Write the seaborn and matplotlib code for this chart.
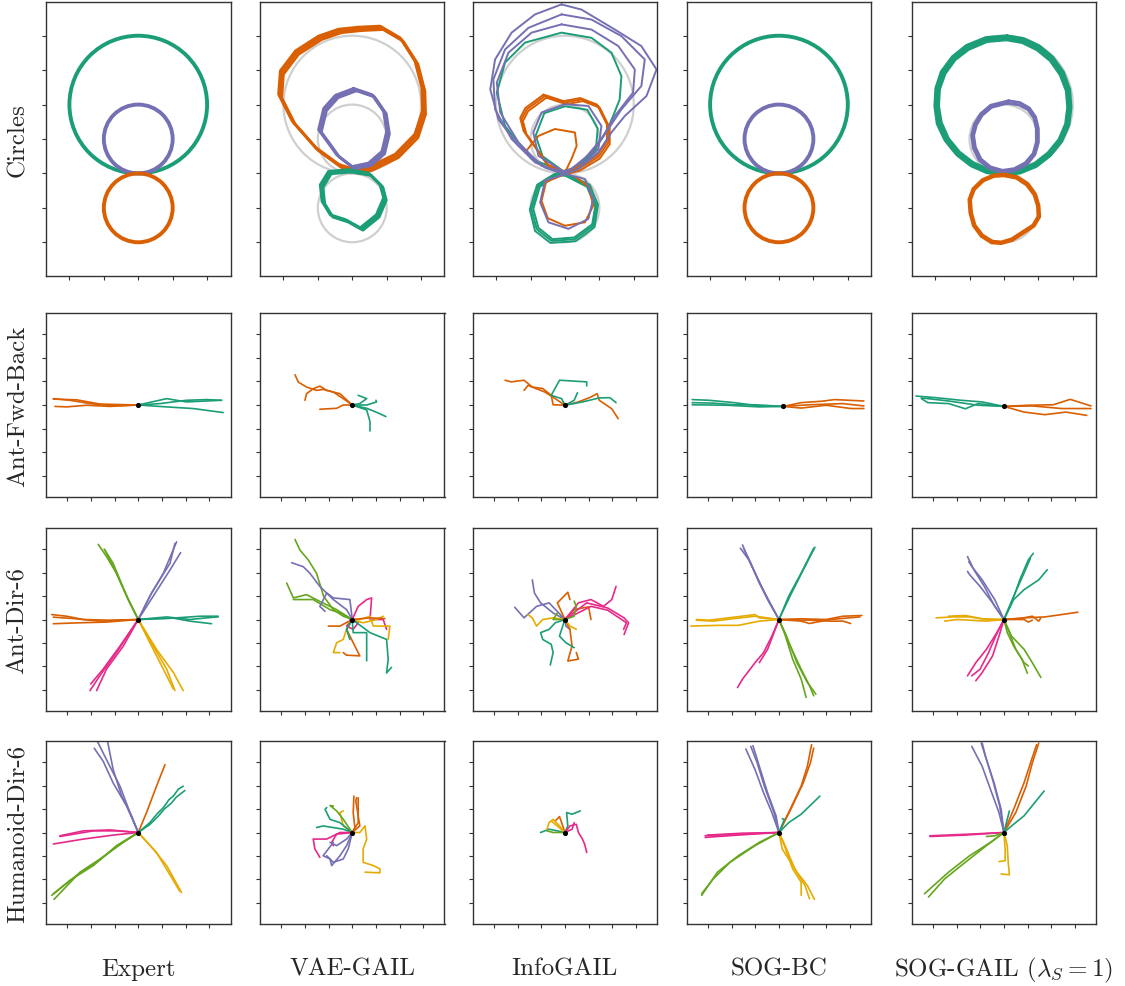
import matplotlib
matplotlib.use("Agg")
import matplotlib.pyplot as plt
from matplotlib.patches import Circle
import seaborn as sns
import pandas as pd

sns.set_theme(style="ticks")
plt.rcParams['font.family'] = ['cmr10', 'DejaVu Serif']
plt.rcParams['mathtext.fontset'] = 'cm'
plt.rcParams['axes.formatter.use_mathtext'] = True

W, H = 1125, 987
dk = sns.color_palette("Dark2")
PALETTE = {"teal": dk[0], "orange": dk[1], "purple": dk[2],
           "pink": dk[3], "lime": dk[4], "gold": dk[5]}

METHODS = ["Expert", "VAE-GAIL", "InfoGAIL", "SOG-BC", r"SOG-GAIL ($\lambda_S = 1$)"]
TASKS = ["Circles", "Ant-Fwd-Back", "Ant-Dir-6", "Humanoid-Dir-6"]

# ---- Circles (cx, cy, r) ----
REF_CIRCLES = [(0, 20, 20), (0, 10, 10), (0, -10, 10)]
CIRCLE_COLORS = ["teal", "purple", "orange"]

circ_vae = {
    "orange": [
        [(2.2,42.0),(8.5,42.3),(14.3,38.9),(18.6,32.2),(20.6,24.4),(20.8,17.7),(18.6,10.9),(12.9,5.1),(5.1,1.3),(1.3,0.5),(-3.6,2.2),(-10.3,7.1),(-17.1,14.8),(-21.0,22.5),(-20.5,29.3),(-16.1,35.1),(-9.4,39.4),(-3.6,41.4),(2.2,42.0)],
        [(2.7,41.5),(9.0,41.8),(14.8,38.4),(19.1,31.7),(21.1,23.9),(21.3,17.2),(19.1,10.4),(13.4,4.6),(5.6,0.8),(1.8,0.0),(-3.1,1.7),(-9.8,6.6),(-16.6,14.3),(-20.5,22.0),(-20.0,28.8),(-15.6,34.6),(-8.9,38.9),(-3.1,40.9),(2.7,41.5)],
        [(1.8,42.5),(8.1,42.8),(13.9,39.4),(18.2,32.7),(20.2,24.9),(20.4,18.2),(18.2,11.4),(12.5,5.6),(4.7,1.8),(0.9,1.0),(-4.0,2.7),(-10.7,7.6),(-17.5,15.3),(-21.4,23.0),(-20.9,29.8),(-16.5,35.6),(-9.8,39.9),(-4.0,41.9),(1.8,42.5)],
    ],
    "purple": [
        [(0.8,24.4),(6.1,22.6),(9.5,17.7),(10.4,11.9),(9.0,6.1),(5.1,2.7),(0.3,1.7),(-4.1,5.1),(-6.9,9.0),(-9.4,12.4),(-7.9,18.6),(-4.5,22.4),(0.8,24.4)],
        [(1.2,24.0),(6.5,22.2),(9.9,17.3),(10.8,11.5),(9.4,5.7),(5.5,2.3),(0.7,1.3),(-3.7,4.7),(-6.5,8.6),(-9.0,12.0),(-7.5,18.2),(-4.1,22.0),(1.2,24.0)],
        [(0.4,24.7),(5.7,22.9),(9.1,18.0),(10.0,12.2),(8.6,6.4),(4.7,3.0),(-0.1,2.0),(-4.5,5.4),(-7.3,9.3),(-9.8,12.7),(-8.3,18.9),(-4.9,22.7),(0.4,24.7)],
    ],
    "teal": [
        [(-0.7,0.8),(5.1,-0.2),(8.5,-3.6),(9.5,-7.4),(7.4,-12.3),(2.7,-16.1),(-1.6,-13.7),(-6.0,-12.3),(-8.4,-8.4),(-8.9,-3.6),(-6.5,0.3),(-0.7,0.8)],
        [(-0.3,0.4),(5.5,-0.6),(8.9,-4.0),(9.9,-7.8),(7.8,-12.7),(3.1,-16.5),(-1.2,-14.1),(-5.6,-12.7),(-8.0,-8.8),(-8.5,-4.0),(-6.1,-0.1),(-0.3,0.4)],
        [(-1.1,1.1),(4.7,0.1),(8.1,-3.3),(9.1,-7.1),(7.0,-12.0),(2.3,-15.8),(-2.0,-13.4),(-6.4,-12.0),(-8.8,-8.1),(-9.3,-3.3),(-6.9,0.6),(-1.1,1.1)],
    ],
}

circ_info = {
    "teal": [
        [(0,0.3),(-9.7,4.2),(-17.4,13.8),(-19.8,23.5),(-17.4,32.2),(-11.6,38.0),(-1.0,40.9),(7.7,39.4),(13.5,35.1),(16.4,28.3),(15.9,21.5),(14.0,16.7),(12.0,12.0),(8.0,6.0),(3.0,1.5),(0,0.3)],
        [(0,0.3),(-6.5,5.0),(-8.5,11.0),(-6.0,17.5),(0,19.5),(6.5,18.5),(9.5,13.0),(9.0,7.0),(4.0,1.8),(0,0.3)],
        [(0,-0.2),(6.8,-3.6),(9.2,-9.4),(8.2,-15.2),(2.9,-19.1),(-3.9,-19.6),(-8.2,-16.2),(-9.7,-10.4),(-7.7,-3.6),(-2.9,-0.5),(0,-0.2)],
        [(0,-0.6),(6.4,-3.9),(8.8,-9.6),(7.9,-14.8),(2.7,-18.6),(-3.6,-19.1),(-7.7,-15.8),(-9.2,-10.3),(-7.3,-3.9),(-2.7,-0.8),(0,-0.6)],
        [(0,0.1),(7.2,-3.3),(9.6,-9.1),(8.6,-15.6),(3.1,-19.7),(-4.2,-20.2),(-8.7,-16.7),(-10.2,-10.5),(-8.1,-3.3),(-3.1,-0.2),(0,0.1)],
    ],
    "orange": [
        [(-5.8,22.5),(0,20.6),(4.8,21.5),(9.7,19.6),(12.6,13.8),(12.6,9.0),(9.7,4.8),(3.9,1.3),(0,0.3),(-4.8,2.2),(-8.2,7.1),(-11.6,11.9),(-12.6,15.7),(-11.1,18.6),(-5.8,22.5)],
        [(-5.4,22.0),(0.4,20.1),(5.2,21.0),(10.1,19.1),(13.0,13.3),(13.0,8.5),(10.1,4.3),(4.3,0.8),(0.4,-0.2),(-4.4,1.7),(-7.8,6.6),(-11.2,11.4),(-12.2,15.2),(-10.7,18.1),(-5.4,22.0)],
        [(-6.2,22.9),(-0.4,21.0),(4.4,21.9),(9.3,20.0),(12.2,14.2),(12.2,9.4),(9.3,5.2),(3.5,1.7),(-0.4,0.7),(-5.2,2.6),(-8.6,7.5),(-12.0,12.3),(-13.0,16.1),(-11.5,19.0),(-6.2,22.9)],
        [(0,0.3),(1.9,4.2),(3.4,8.0),(2.9,11.9),(-2.9,12.9),(-7.7,10.9),(-11.6,6.1)],
        [(0,-0.2),(-5.5,-2.5),(-6.8,-8.0),(-5.0,-13.0),(0,-15.2),(5.8,-14.2),(8.2,-9.4),(7.0,-4.0),(3.0,-1.0)],
    ],
    "purple": [
        [(-1.0,49.1),(4.8,47.6),(14.5,41.8),(22.2,37.0),(26.6,30.2),(23.7,22.5),(17.4,16.7),(13.5,11.9),(9.7,6.1),(3.9,1.3),(0,-0.2),(-5.8,1.7),(-13.5,8.0),(-19.3,15.7),(-21.7,24.4),(-20.3,33.1),(-15.5,40.9),(-8.7,46.2),(-1.0,49.1)],
        [(-1.0,46.2),(7.7,44.7),(16.4,39.9),(23.2,33.1),(22.2,25.4),(16.4,18.6),(12.6,12.9),(7.7,6.1),(1.9,1.3),(-1.9,0.3),(-8.7,3.2),(-15.5,10.0),(-20.3,18.6),(-20.8,27.3),(-17.4,36.0),(-10.6,42.3),(-1.0,46.2)],
        [(-1.0,43.3),(7.7,41.8),(15.5,37.0),(20.3,30.2),(19.8,23.5),(14.5,16.7),(10.6,10.0),(4.8,3.2),(0,0.3),(-6.8,2.2),(-13.5,9.0),(-18.8,17.7),(-19.8,26.4),(-16.4,35.1),(-9.7,40.9),(-1.0,43.3)],
        [(0,-0.2),(5.8,-1.6),(8.2,-7.4),(6.8,-13.2),(1.0,-16.1),(-4.8,-14.2),(-7.2,-8.4),(-5.8,-2.1),(0,-0.2)],
        [(3.9,1.3),(9.7,7.1),(10.6,13.8),(6.8,19.6),(0,20.1),(-6.8,17.7),(-9.2,11.9),(-7.7,5.1),(0,0.3)],
    ],
}

circ_soggail = {
    "teal": [
        [(0.8,39.4),(5.5,38.6),(9.9,36.5),(13.8,33.3),(16.8,29.0),(18.6,24.2),(19.0,19.2),(18.4,14.3),(16.4,9.6),(13.2,5.6),(9.2,2.5),(4.6,0.6),(0.0,0.0),(-4.8,0.7),(-9.3,2.7),(-13.3,5.8),(-16.6,9.9),(-18.8,14.6),(-19.6,19.6),(-19.2,24.6),(-17.6,29.3),(-14.6,33.4),(-10.6,36.6),(-5.0,38.9),(0.8,39.4)],
        [(0.7,38.8),(5.3,38.0),(9.6,35.9),(13.4,32.8),(16.3,28.7),(18.1,24.0),(18.5,19.2),(17.9,14.4),(16.0,9.9),(12.8,6.0),(9.0,3.0),(4.5,1.1),(0.0,0.5),(-4.6,1.2),(-9.0,3.2),(-12.9,6.2),(-16.1,10.1),(-18.2,14.8),(-19.0,19.6),(-18.7,24.5),(-17.1,29.0),(-14.2,33.0),(-10.3,36.0),(-4.9,38.3),(0.7,38.8)],
        [(0.9,40.0),(5.7,39.2),(10.2,37.1),(14.2,33.8),(17.3,29.4),(19.1,24.4),(19.5,19.2),(18.9,14.1),(16.8,9.3),(13.5,5.2),(9.4,2.0),(4.7,0.1),(0.0,-0.5),(-5.0,0.2),(-9.6,2.2),(-13.7,5.4),(-17.1,9.6),(-19.4,14.4),(-20.1,19.6),(-19.8,24.8),(-18.2,29.6),(-15.0,33.9),(-10.9,37.2),(-5.2,39.5),(0.9,40.0)],
    ],
    "purple": [
        [(1.3,21.1),(4.6,20.6),(7.4,19.0),(9.2,16.4),(10.0,13.0),(10.0,9.0),(9.0,5.5),(6.6,2.6),(3.2,0.8),(-0.5,0.3),(-4.2,1.4),(-7.2,3.8),(-8.9,7.4),(-9.4,11.0),(-8.6,14.3),(-6.8,17.3),(-3.9,19.8),(1.3,21.1)],
        [(1.0,20.4),(4.4,19.9),(7.0,18.5),(8.7,16.1),(9.4,12.9),(9.4,9.1),(8.5,5.8),(6.2,3.1),(3.0,1.4),(-0.4,0.9),(-3.9,1.9),(-6.7,4.2),(-8.3,7.6),(-8.8,11.0),(-8.0,14.1),(-6.3,16.9),(-3.6,19.2),(1.0,20.4)],
    ],
    "orange": [
        [(0.0,-0.2),(3.8,-0.9),(7.0,-3.0),(9.2,-6.0),(10.2,-9.3),(10.4,-12.6),(8.8,-15.3),(5.6,-17.4),(2.4,-19.5),(-0.8,-20.4),(-3.6,-20.2),(-6.6,-18.3),(-8.9,-15.2),(-9.9,-11.5),(-10.2,-7.6),(-9.0,-4.4),(-6.3,-1.8),(-3.0,-0.4),(0.0,-0.2)],
        [(0.0,-0.7),(3.6,-1.4),(6.6,-3.4),(8.7,-6.2),(9.7,-9.4),(9.9,-12.5),(8.4,-15.0),(5.3,-17.0),(2.2,-19.0),(-0.8,-19.9),(-3.4,-19.7),(-6.2,-17.9),(-8.4,-15.0),(-9.4,-11.4),(-9.7,-7.7),(-8.6,-4.7),(-6.0,-2.2),(-2.9,-0.9),(0.0,-0.7)],
    ],
}

# ---- Ant-Fwd-Back (tick units) ----
FB_START = [(0, 0), (0, 0), (0, -0.01), (0.18, -0.06), (0, -0.06)]
fb_expert = {
    "orange": [[(-1.06,-0.03),(-2.04,0.06),(-2.89,0.2),(-3.59,0.27)],
               [(-1.2,-0.06),(-2.18,-0.01),(-3.03,-0.08),(-3.52,-0.06)],
               [(-1.62,0.04),(-2.6,0.22),(-3.59,0.25)]],
    "teal": [[(0.92,0.06),(2.04,0.2),(2.89,0.23),(3.52,0.2)],
             [(1.2,0.27),(2.04,0.13),(3.52,0.2)],
             [(1.2,-0.08),(2.32,-0.15),(3.59,-0.32)]],
}
fb_vae = {
    "orange": [[(-0.38,0.27),(-0.8,0.55),(-1.23,0.66),(-1.51,0.62),(-1.93,0.76),(-2.28,0.97),(-2.42,1.28)],
               [(-0.52,0.48),(-1.08,0.62),(-1.37,0.8),(-1.65,0.69),(-1.93,0.48),(-2.0,0.2)],
               [(-0.38,0.0),(-0.66,-0.14),(-1.37,-0.18)]],
    "teal": [[(0.32,0.06),(0.61,0.27),(0.25,0.41)],
             [(0.61,0.0),(1.03,0.13),(1.0,0.2)],
             [(0.61,-0.21),(0.75,-0.7),(0.75,-1.1)],
             [(0.61,-0.14),(1.03,-0.31),(1.42,-0.49)]],
}
fb_info = {
    "orange": [[(-0.5,0.01),(-0.58,0.41),(-0.94,0.7),(-1.38,0.76),(-1.73,1.05),(-2.27,0.98),(-2.53,1.05)],
               [(-0.41,0.27),(-0.85,0.55),(-1.56,0.83),(-1.73,0.62)],
               [(0.57,0.13),(1.1,0.34),(1.36,0.48),(1.45,0.2),(1.98,-0.16),(2.25,-0.58)]],
    "teal": [[(-0.14,0.27),(-0.58,0.41),(-0.23,1.05),(0.92,0.98),(0.92,0.81)],
             [(0.39,0.2),(0.53,0.52)],
             [(0.74,0.13),(1.45,0.3),(1.9,0.31),(2.16,0.1)]],
}
fb_sogbc = {
    "teal": [[(-0.83,-0.04),(-1.89,0.1),(-2.96,0.2),(-3.67,0.23)],
             [(-1.0,0.01),(-1.89,0.01),(-2.8,0.08),(-3.67,0.1)],
             [(-0.83,-0.08),(-2.2,-0.01),(-3.67,0.01)]],
    "orange": [[(0.94,0.1),(1.82,0.16),(2.35,0.23),(3.59,0.17)],
               [(1.3,0.01),(2.7,0.06),(3.59,-0.04)],
               [(0.94,-0.13),(1.99,-0.01),(3.05,-0.15),(3.59,-0.15)]],
}
fb_soggail = {
    "teal": [[(-0.92,0.13),(-1.81,0.2),(-2.87,0.31),(-3.72,0.38)],
             [(-1.1,-0.01),(-2.34,0.17),(-3.22,0.27),(-3.49,0.3)],
             [(-1.1,0.06),(-1.63,-0.16),(-2.34,0.06),(-3.22,0.1),(-3.49,0.27)]],
    "orange": [[(1.03,-0.01),(2.09,0.01),(2.8,0.24),(3.68,-0.04)],
               [(1.2,-0.04),(2.44,-0.15),(3.68,-0.15)],
               [(0.85,-0.3),(1.73,-0.41),(2.62,-0.3),(3.5,-0.44)]],
}

# ---- Ant-Dir-6 (tick units) ----
ad_expert = {
    "lime": [[(-0.42,0.85),(-0.92,1.97),(-1.34,2.68),(-1.69,3.2)],
             [(-0.49,0.99),(-1.06,2.39),(-1.44,3.0)],
             [(-0.35,0.7),(-0.99,2.11),(-1.41,2.96)]],
    "purple": [[(0.49,0.99),(1.06,1.97),(1.62,3.31)],
               [(0.56,1.13),(1.34,2.39),(1.55,3.24)],
               [(0.63,0.99),(1.34,2.11),(1.79,2.85)]],
    "orange": [[(-1.2,-0.03),(-2.32,0.0),(-3.03,0.14),(-3.66,0.21)],
               [(-1.62,-0.07),(-2.75,0.04),(-3.59,0.1)],
               [(-1.34,-0.11),(-2.46,-0.14),(-3.59,-0.18)]],
    "teal": [[(1.2,0.11),(2.18,0.0),(2.89,0.07),(3.38,0.11)],
             [(1.48,0.06),(2.61,0.14),(3.38,0.14)],
             [(1.48,0.06),(2.18,-0.07),(3.1,-0.18)]],
    "pink": [[(-0.77,-1.13),(-1.48,-2.11),(-2.01,-2.75)],
             [(-0.92,-1.41),(-1.62,-2.39),(-2.04,-3.03)],
             [(-0.63,-1.13),(-1.34,-2.11),(-1.76,-3.03)]],
    "gold": [[(0.63,-1.13),(1.2,-2.11),(1.55,-3.03)],
             [(0.49,-0.99),(1.06,-2.11),(1.48,-2.96)],
             [(0.77,-1.27),(1.48,-2.25),(1.9,-3.03)]],
}
ad_vae = {
    "lime": [[(-0.38,0.14),(-0.8,0.42),(-1.21,0.99),(-1.51,1.97),(-1.86,2.54),(-2.21,2.96),(-2.42,3.41)],
             [(-0.66,0.42),(-1.37,0.77),(-1.93,1.06),(-2.49,0.92),(-2.77,1.55)],
             [(-0.52,0.28),(-0.94,0.42),(-1.65,0.85),(-2.49,0.85)]],
    "purple": [[(-0.24,0.42),(-0.8,0.85),(-1.37,1.41),(-1.79,1.97),(-2.07,2.25),(-2.56,2.42)],
               [(-0.1,0.85),(-0.8,0.92),(-1.08,1.13),(-1.37,0.56),(-1.15,0.35)]],
    "pink": [[(0.25,0.56),(0.61,0.85),(0.82,0.92),(0.75,0.0),(1.31,0.0),(1.45,-0.42)],
             [(-0.24,-0.28),(0.04,-0.42),(0.25,-0.14),(-0.1,0.0)]],
    "gold": [[(0.32,0.0),(0.75,0.14),(0.89,-0.28),(1.59,-0.28),(1.52,-0.85)],
             [(-0.24,-0.42),(-0.38,-0.85),(-0.66,-0.99),(-0.8,-1.41),(-0.52,-1.41)],
             [(0.46,-0.14),(1.03,0.0),(1.31,0.14)]],
    "orange": [[(-0.24,-0.42),(0.04,-0.99),(0.32,-1.55),(-0.24,-1.52),(-0.38,-1.41)],
               [(-0.52,-0.28),(-1.01,-0.28)],
               [(0.75,0.07),(1.38,0.04)]],
    "teal": [[(0.04,-0.56),(0.61,-0.56),(0.61,-1.27),(0.61,-1.76)],
             [(0.75,-0.56),(1.45,-0.85),(1.52,-1.69),(1.45,-2.28),(1.66,-2.04)],
             [(-0.24,-0.42),(-0.1,-0.85)]],
}
ad_info = {
    "purple": [[(-0.5,0.28),(-1.03,0.71),(-1.29,1.13),(-1.38,1.69)],
               [(-0.67,0.71),(-1.2,0.56),(-1.73,0.07),(-2.12,0.52)],
               [(0.04,-0.28),(0.21,-0.42)]],
    "orange": [[(-0.32,0.71),(0.12,1.16),(0.21,0.85)],
               [(0.21,-0.42),(0.3,-1.13),(0.12,-1.77),(0.57,-1.69),(0.48,-1.41)],
               [(0.39,0.42),(1.0,0.54),(1.1,0.0)]],
    "pink": [[(0.57,0.71),(1.1,0.85),(1.63,0.56),(1.98,0.85),(2.16,1.41)],
             [(0.92,0.71),(1.81,0.49),(2.5,0.07),(2.69,-0.14),(2.5,-0.64)],
             [(1.1,0.56),(1.8,0.4),(2.6,-0.14),(2.48,-0.42)]],
    "gold": [[(-0.5,0.07),(-0.94,0.0),(-1.2,-0.28),(-1.38,0.07),(-1.56,0.21)],
             [(0.21,-0.28),(0.48,-0.42)]],
    "teal": [[(-0.41,-0.14),(-0.67,-0.42),(-1.03,-0.56),(-0.94,-0.85),(-0.58,-1.06),(-0.5,-1.41),(-0.62,-1.94)],
             [(-0.14,-0.42),(-0.23,-0.71),(0.04,-0.99),(0.39,-1.2)]],
    "lime": [[(0.39,0.14),(0.48,0.56),(0.39,0.78)],
             [(-0.5,0.0),(-0.32,0.28)]],
}
ad_sogbc = {
    "purple": [[(-0.48,0.85),(-1.01,1.98),(-1.4,2.82),(-1.54,3.18)],
               [(-0.39,0.71),(-0.83,1.55),(-1.19,2.4),(-1.49,3.04)],
               [(-0.3,0.56),(-0.74,1.41),(-1.27,2.54),(-1.63,3.04)]],
    "teal": [[(0.41,0.99),(0.94,1.98),(1.47,3.04)],
             [(0.5,1.06),(1.03,2.12),(1.52,3.08)]],
    "orange": [[(0.94,0.03),(1.99,0.0),(2.71,0.14),(3.5,0.17)],
               [(1.29,-0.03),(2.18,-0.07),(2.71,-0.07),(3.03,-0.17)],
               [(0.94,-0.07),(1.29,-0.17),(2.18,0.0),(3.42,0.11)]],
    "gold": [[(-0.83,-0.07),(-1.72,-0.25),(-2.6,-0.25),(-3.72,-0.28)],
             [(-1.01,0.14),(-1.89,0.04),(-2.78,-0.07),(-3.49,-0.03)],
             [(-0.83,0.07),(-1.01,0.21),(-1.89,0.1),(-2.96,-0.03),(-3.49,0.0)]],
    "pink": [[(-0.3,-0.71),(-0.65,-1.41),(-1.01,-1.84),(-1.54,-2.54),(-1.75,-2.9)],
             [(-0.21,-0.56),(-0.48,-1.27),(-0.83,-1.84)]],
    "lime": [[(0.23,-0.56),(0.58,-1.69),(0.94,-2.54),(1.15,-3.32)],
             [(0.32,-0.71),(0.76,-1.84),(1.2,-2.68),(1.56,-3.18)],
             [(0.41,-0.99),(0.94,-2.12),(1.29,-2.82),(1.47,-3.25)]],
}
ad_soggail = {
    "purple": [[(-0.39,0.56),(-0.83,1.41),(-1.27,2.12),(-1.54,2.68)],
               [(-0.48,0.71),(-1.01,1.41),(-1.45,1.91),(-1.54,2.05)],
               [(-0.39,0.85),(-0.92,1.69),(-1.36,2.26),(-1.49,2.47)]],
    "teal": [[(0.32,0.71),(0.67,1.69),(1.03,2.54),(1.24,2.82)],
             [(0.41,0.85),(0.85,1.27),(1.47,1.69),(1.83,2.12)],
             [(0.32,0.78),(0.85,1.98),(1.12,2.61)]],
    "orange": [[(0.85,0.07),(1.73,0.11),(2.44,0.21),(3.12,0.31)],
               [(0.67,0.04),(1.2,0.14),(1.47,-0.07),(1.55,0.05)],
               [(0.85,0.0),(1.03,-0.11),(1.2,-0.03)]],
    "gold": [[(-0.74,0.0),(-1.45,0.11),(-2.16,0.11),(-2.87,0.07)],
             [(-0.74,-0.07),(-1.45,-0.03),(-1.98,0.0),(-2.51,-0.07)],
             [(-0.92,0.03),(-1.63,0.17),(-2.34,0.14)]],
    "pink": [[(-0.3,-0.56),(-0.74,-1.27),(-1.19,-1.84),(-1.54,-2.4)],
             [(-0.35,-0.71),(-0.65,-1.41),(-1.01,-2.12),(-1.36,-2.4)],
             [(-0.21,-0.71),(-0.48,-1.55),(-0.92,-2.26),(-1.19,-2.61)]],
    "lime": [[(0.23,-0.56),(0.5,-1.27),(0.85,-1.84),(1.03,-1.98)],
             [(0.14,-0.56),(0.41,-1.13),(0.76,-1.69),(0.99,-2.29)],
             [(0.32,-0.71),(0.85,-1.27),(1.2,-1.84),(1.56,-2.47)]],
}

# ---- Humanoid-Dir-6 (tick units) ----
hd_expert = {
    "purple": [[(-0.49,1.13),(-1.06,2.11),(-1.48,3.03),(-1.86,3.59)],
               [(-0.35,0.85),(-0.77,1.97),(-1.2,2.82),(-1.76,3.95)],
               [(-0.28,0.7),(-0.7,1.55),(-1.06,2.68),(-1.31,3.95)]],
    "orange": [[(0.35,0.85),(0.77,1.97),(1.13,2.89)]],
    "teal": [[(0.49,0.42),(0.8,0.8),(1.06,1.06),(1.3,1.4),(1.48,1.55),(1.7,1.85),(1.9,1.97)],
             [(0.5,0.35),(0.85,0.7),(1.1,1.0),(1.4,1.25),(1.6,1.5),(1.97,1.79)]],
    "pink": [[(-0.92,0.07),(-1.9,0.07),(-3.31,-0.17)],
             [(-1.06,-0.11),(-2.32,-0.28),(-3.59,-0.49)],
             [(-1.2,0.11),(-2.32,0.07),(-3.31,-0.14)]],
    "lime": [[(-0.77,-0.49),(-1.76,-1.27),(-2.61,-1.83),(-3.66,-2.68)],
             [(-0.63,-0.42),(-1.62,-1.13),(-2.46,-1.69),(-3.56,-2.85)],
             [(-0.92,-0.56),(-1.9,-1.41),(-2.89,-2.04),(-3.59,-2.61)]],
    "gold": [[(0.63,-0.7),(1.2,-1.41),(1.83,-2.56)],
             [(0.77,-0.85),(1.76,-2.51)]],
}
hd_vae = {
    "orange": [[(0.11,0.21),(0.04,0.85),(0.07,1.55)],
               [(0.25,0.42),(0.25,1.48)],
               [(0.32,0.28),(0.15,1.34),(0.18,1.48)]],
    "gold": [[(0.32,0.0),(0.54,0.28),(0.61,-0.28),(0.46,-0.7),(0.46,-1.27),(0.89,-1.41),(1.17,-1.55),(1.17,-1.72),(0.54,-1.69)],
             [(-0.38,0.28),(-0.52,0.85),(-0.38,0.92)]],
    "teal": [[(-0.38,0.14),(-0.8,0.21),(-1.23,0.28),(-1.51,0.21)],
             [(-0.52,0.42),(-0.94,0.56),(-1.15,0.99),(-1.08,1.06)]],
    "lime": [[(-0.38,0.56),(-0.66,0.92),(-0.94,1.15),(-0.8,1.13)]],
    "pink": [[(-0.52,0.0),(-0.8,-0.14),(-1.08,-0.28),(-1.65,-0.28),(-1.58,-0.7),(-1.37,-1.06)],
             [(-0.66,-0.07),(-0.87,-0.42),(-0.8,-0.56)]],
    "purple": [[(-0.24,-0.56),(-0.52,-0.99),(-0.87,-1.41),(-0.94,-1.13),(-1.23,-0.99),(-0.8,-0.42)],
               [(-0.17,-0.7),(-0.38,-1.13),(-0.8,-1.27),(-1.08,-0.99)],
               [(-0.24,-0.28),(-0.66,-0.56),(-0.94,-0.42)]],
}
hd_info = {
    "teal": [[(-0.32,0.07),(-0.67,0.14),(-1.03,0.0)],
             [(0.12,0.28),(0.07,0.85),(0.3,0.78),(0.65,0.92)]],
    "orange": [[(-0.14,0.42),(-0.23,0.68),(-0.41,0.49)]],
    "gold": [[(-0.23,0.28),(-0.5,0.56),(-0.67,0.42),(-0.76,0.14)],
             [(-0.41,0.35),(-0.58,0.49)]],
    "lime": [[(-0.5,0.0),(-0.76,0.07)]],
    "pink": [[(0.21,0.28),(0.48,0.35),(0.57,0.0),(0.74,-0.28),(0.83,-0.49),(0.92,-0.85)],
             [(0.3,0.14),(0.39,0.42)]],
}
hd_sogbc = {
    "purple": [[(-0.3,0.85),(-0.65,1.69),(-1.01,2.68),(-1.4,3.56)],
               [(-0.21,0.85),(-0.62,1.98),(-0.92,2.97),(-1.19,3.67)],
               [(-0.12,0.7),(-0.48,1.69),(-0.83,2.82),(-1.1,3.7)]],
    "orange": [[(0.41,0.85),(0.94,1.98),(1.2,2.82),(1.38,3.74)],
               [(0.5,0.99),(1.03,2.12),(1.33,2.97),(1.47,3.6)]],
    "teal": [[(0.41,0.42),(0.94,0.78),(1.73,1.55)],
             [(0.23,0.56),(0.14,0.59)]],
    "pink": [[(-1.72,-0.07),(-3.12,-0.14)],
             [(-1.72,-0.11),(-3.12,-0.21)],
             [(-1.54,-0.03),(-3.03,-0.11)]],
    "lime": [[(-0.83,-0.42),(-1.72,-0.99),(-2.6,-1.69),(-3.27,-2.68)],
             [(-1.01,-0.56),(-2.07,-1.27),(-2.78,-1.98),(-3.27,-2.61)]],
    "gold": [[(0.23,-0.56),(0.58,-1.55),(0.94,-2.12),(0.94,-2.68)],
             [(0.14,-0.7),(0.76,-1.69),(1.2,-2.26),(1.5,-2.85)],
             [(0.23,-0.49),(0.67,-1.55),(1.1,-2.26),(1.29,-2.82)]],
}
hd_soggail = {
    "purple": [[(-0.21,0.85),(-0.57,1.84),(-0.92,2.82),(-1.36,3.67)],
               [(-0.12,0.99),(-0.42,2.12),(-0.74,3.11),(-0.96,3.81)],
               [(-0.18,1.13),(-0.48,2.26),(-0.78,3.25),(-0.92,3.81)]],
    "orange": [[(0.5,0.85),(0.94,1.98),(1.2,2.97),(1.47,3.81)],
               [(0.41,0.99),(0.85,2.12),(1.17,3.11),(1.38,3.74)]],
    "teal": [[(0.32,0.28),(0.85,0.71),(1.7,1.77)],
             [(0.14,0.56),(0.23,0.92)]],
    "pink": [[(-1.45,-0.07),(-3.13,-0.14)],
             [(-1.63,-0.11),(-3.13,-0.17)]],
    "lime": [[(-0.39,-0.14),(-0.74,-0.17)],
             [(-0.57,-0.42),(-1.45,-0.99),(-2.34,-1.69),(-3.36,-2.61)],
             [(-0.74,-0.56),(-1.81,-1.41),(-2.51,-1.98),(-3.19,-2.75)]],
    "gold": [[(0.14,-0.56),(0.18,-1.27),(0.23,-1.8),(-0.12,-1.77)],
             [(0.05,-0.7),(0.05,-1.2),(-0.21,-1.24)]],
}

ROW_DATA = [
    [None, circ_vae, circ_info, None, circ_soggail],
    [fb_expert, fb_vae, fb_info, fb_sogbc, fb_soggail],
    [ad_expert, ad_vae, ad_info, ad_sogbc, ad_soggail],
    [hd_expert, hd_vae, hd_info, hd_sogbc, hd_soggail],
]
STARTS = [None, FB_START, [(0, 0)] * 5, [(0, 0)] * 5]

# layout in pixels
COL_LEFT = [46, 260, 472.7, 686.7, 911.7]
ROW_TOP = [3, 314, 529, 742]
ROW_H = [274, 184, 183, 183]
AX_W = 184.5
CIRCLE_LW = [None, 2.0, 1.4, None, 2.0]


def draw_trajs(ax, trajs, start, lw):
    rows = []
    for key, lines in trajs.items():
        for i, pts in enumerate(lines):
            pts = ([start] if start is not None else []) + list(pts)
            for j, (x, y) in enumerate(pts):
                rows.append({"x": x, "y": y, "mode": key, "traj": f"{key}{i}", "step": j})
    df = pd.DataFrame(rows)
    sns.lineplot(data=df, x="x", y="y", hue="mode", units="traj", estimator=None,
                 sort=False, palette=PALETTE, legend=False, lw=lw, ax=ax,
                 solid_joinstyle="round", solid_capstyle="round")


fig = plt.figure(figsize=(W / 100, H / 100), dpi=100)

for r in range(4):
    for c in range(5):
        t, h, l = ROW_TOP[r], ROW_H[r], COL_LEFT[c]
        ax = fig.add_axes([l / W, 1 - (t + h) / H, AX_W / W, h / H])
        data = ROW_DATA[r][c]
        if r == 0:
            if c in (1, 2, 4):
                for cx, cy, rad in REF_CIRCLES:
                    ax.add_patch(Circle((cx, cy), rad, fill=False, ec="#cfcfcf", lw=1.6, zorder=1))
            if data is None:
                for (cx, cy, rad), col in zip(REF_CIRCLES, CIRCLE_COLORS):
                    ax.add_patch(Circle((cx, cy), rad, fill=False, ec=PALETTE[col], lw=2.8, zorder=2))
            else:
                draw_trajs(ax, data, None, CIRCLE_LW[c])
            ax.set_xlim(-26.8, 26.8)
            ax.set_ylim(-29.8, 49.8)
            ax.set_xticks([-20, -10, 0, 10, 20])
            ax.set_yticks([-20, -10, 0, 10, 20, 30, 40])
        else:
            st = STARTS[r][c]
            draw_trajs(ax, data, st, 1.2)
            ax.scatter([st[0]], [st[1]], s=14, color="black", zorder=6, lw=0)
            ax.set_xlim(-3.9, 3.9)
            ax.set_ylim(-3.9, 3.9)
            ax.set_xticks(range(-3, 4))
            ax.set_yticks(range(-3, 4))
        ax.set_xticklabels([])
        ax.set_yticklabels([])
        ax.set_xlabel("")
        ax.set_ylabel("")
        ax.tick_params(direction="out", length=3, width=0.8, colors=".2")
        for sp in ax.spines.values():
            sp.set_linewidth(1.0)
            sp.set_color(".2")

for r, task in enumerate(TASKS):
    yc = ROW_TOP[r] + ROW_H[r] / 2
    fig.text(18 / W, 1 - yc / H, task, rotation=90, ha="center", va="center", fontsize=18)

for c, name in enumerate(METHODS):
    xc = COL_LEFT[c] + AX_W / 2
    fig.text(xc / W, 1 - 976 / H, name, ha="center", va="baseline", fontsize=18)

fig.savefig("out.png", dpi=100)
